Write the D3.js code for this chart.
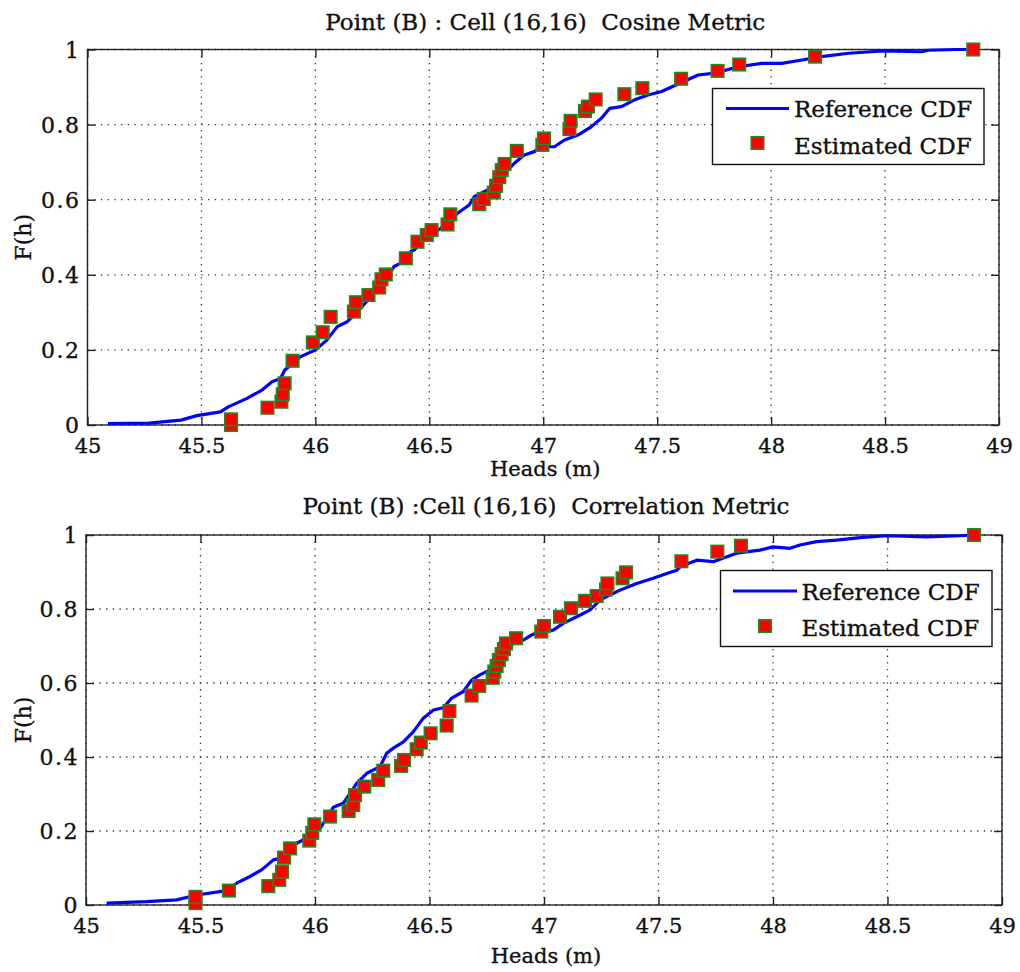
<!DOCTYPE html>
<html>
<head>
<meta charset="utf-8">
<script src="https://cdn.jsdelivr.net/npm/d3@7"></script>
<style>
  html, body { margin: 0; padding: 0; background: #fff; }
  svg { display: block; }
  text { font-family: "DejaVu Serif", serif; fill: #111; stroke: #111; stroke-width: 0.35px; white-space: pre; }
</style>
</head>
<body>
<svg id="chart" width="1020" height="972"></svg>
<script>
// ---------------- DATA ----------------
const xTicks = [45, 45.5, 46, 46.5, 47, 47.5, 48, 48.5, 49];
const xTickLabels = ["45", "45.5", "46", "46.5", "47", "47.5", "48", "48.5", "49"];
const yTicks = [0, 0.2, 0.4, 0.6, 0.8, 1];
const yTickLabels = ["0", "0.2", "0.4", "0.6", "0.8", "1"];

const titles = ["Point (B) : Cell (16,16)  Cosine Metric", "Point (B) :Cell (16,16)  Correlation Metric"];
const xLabel = "Heads (m)";
const yLabel = "F(h)";
const seriesNames = ["Reference CDF", "Estimated CDF"];

// Panel 1 (Cosine) – reference CDF
const cosRefX = [45.09,45.27,45.41,45.48,45.583,45.62,45.70,45.766,45.81,45.847,45.865,45.883,45.935,46.001,46.05,46.096,46.14,46.199,46.257,46.316,46.345,46.375,46.419,46.433,46.492,46.551,46.624,46.675,46.697,46.756,46.815,46.873,46.917,46.961,46.991,47.049,47.093,47.152,47.21,47.255,47.291,47.343,47.401,47.46,47.519,47.592,47.68,47.753,47.856,47.959,48.047,48.135,48.22,48.34,48.487,48.66,48.69,48.81,48.89];
const cosRefY = [0.004,0.005,0.013,0.025,0.035,0.049,0.071,0.093,0.115,0.124,0.146,0.155,0.182,0.200,0.226,0.262,0.275,0.311,0.351,0.395,0.422,0.431,0.462,0.466,0.501,0.524,0.564,0.586,0.608,0.626,0.661,0.697,0.719,0.728,0.741,0.741,0.759,0.772,0.794,0.817,0.843,0.848,0.866,0.879,0.888,0.908,0.932,0.937,0.954,0.963,0.963,0.972,0.981,0.990,0.996,0.994,0.998,1.0,1.0];
// Panel 1 (Cosine) – estimated CDF
const cosEstX = [45.63,45.63,45.79,45.851,45.857,45.865,45.90,45.989,46.032,46.067,46.169,46.178,46.233,46.28,46.29,46.309,46.397,46.448,46.489,46.51,46.58,46.592,46.719,46.739,46.783,46.793,46.807,46.818,46.83,46.884,46.996,47.003,47.115,47.12,47.183,47.196,47.23,47.356,47.435,47.605,47.765,47.86,48.193,48.887];
const cosEstY = [0.0,0.015,0.046,0.062,0.082,0.111,0.171,0.220,0.247,0.288,0.302,0.327,0.346,0.366,0.388,0.401,0.444,0.488,0.506,0.519,0.534,0.561,0.588,0.602,0.619,0.637,0.660,0.679,0.695,0.730,0.746,0.763,0.788,0.810,0.836,0.848,0.867,0.881,0.897,0.922,0.943,0.960,0.981,1.0];

// Panel 2 (Correlation) – reference CDF
const corRefX = [45.09,45.265,45.396,45.483,45.614,45.658,45.716,45.767,45.818,45.876,45.92,45.978,46.022,46.08,46.124,46.182,46.226,46.284,46.313,46.342,46.386,46.429,46.473,46.517,46.56,46.597,46.648,46.684,46.72,46.764,46.808,46.866,46.91,46.946,46.983,47.04,47.084,47.143,47.2,47.245,47.288,47.332,47.405,47.477,47.536,47.58,47.594,47.667,47.739,47.841,47.943,48.0,48.074,48.118,48.19,48.278,48.38,48.497,48.67,48.817,48.875];
const corRefY = [0.005,0.009,0.014,0.027,0.039,0.059,0.077,0.095,0.122,0.131,0.167,0.185,0.207,0.264,0.275,0.329,0.356,0.374,0.410,0.424,0.441,0.468,0.505,0.527,0.533,0.559,0.577,0.608,0.622,0.635,0.671,0.707,0.716,0.730,0.739,0.743,0.761,0.779,0.797,0.824,0.838,0.851,0.869,0.883,0.896,0.905,0.914,0.932,0.928,0.951,0.959,0.968,0.964,0.973,0.982,0.986,0.993,0.998,0.995,0.998,1.0];
// Panel 2 (Correlation) – estimated CDF
const corEstX = [45.478,45.478,45.624,45.796,45.844,45.856,45.865,45.891,45.975,45.988,45.997,46.066,46.147,46.167,46.175,46.215,46.276,46.298,46.376,46.389,46.444,46.462,46.505,46.575,46.587,46.684,46.717,46.776,46.783,46.793,46.803,46.815,46.825,46.834,46.878,46.988,47.0,47.07,47.118,47.179,47.23,47.271,47.277,47.343,47.358,47.6,47.757,47.86,48.878];
const corEstY = [0.005,0.022,0.039,0.051,0.068,0.090,0.128,0.153,0.174,0.195,0.218,0.239,0.254,0.270,0.297,0.320,0.338,0.363,0.376,0.392,0.421,0.439,0.464,0.485,0.524,0.566,0.592,0.614,0.631,0.646,0.662,0.678,0.692,0.707,0.721,0.739,0.754,0.779,0.802,0.822,0.835,0.853,0.869,0.883,0.899,0.929,0.955,0.971,1.0];

// ---------------- LAYOUT ----------------
const svg = d3.select("#chart");
const panels = [
  { title: titles[0], refX: cosRefX, refY: cosRefY, estX: cosEstX, estY: cosEstY,
    left: 87.5, right: 999, top: 49.5, bottom: 425, titleY: 29.5, xlabY: 476,
    legend: { x0: 712.5, x1: 984, y0: 88.5, y1: 164.5, lineX0: 726, lineX1: 789, row1: 108.5, row2: 143, textX: 794, base1: 117, base2: 154 } },
  { title: titles[1], refX: corRefX, refY: corRefY, estX: corEstX, estY: corEstY,
    left: 86, right: 1002, top: 535, bottom: 905, titleY: 514, xlabY: 963,
    legend: { x0: 720.5, x1: 992, y0: 570.5, y1: 646.5, lineX0: 733, lineX1: 797, row1: 591, row2: 626, textX: 801.5, base1: 599.5, base2: 636 } }
];

const AXIS_COLOR = "#222";
const LINE_BLUE = "#0000ff";
const MARK_FILL = "#ff0000";
const MARK_EDGE = "#1f8a1f";
const MS = 12.5;

panels.forEach(p => {
  const x = d3.scaleLinear().domain([45, 49]).range([p.left, p.right]);
  const y = d3.scaleLinear().domain([0, 1]).range([p.bottom, p.top]);
  const g = svg.append("g");

  g.append("rect").attr("x", p.left).attr("y", p.top)
    .attr("width", p.right - p.left).attr("height", p.bottom - p.top).attr("fill", "#fff");

  // grid (dotted)
  g.append("g").selectAll("line").data(xTicks).join("line")
    .attr("x1", d => x(d)).attr("x2", d => x(d))
    .attr("y1", p.top).attr("y2", p.bottom)
    .attr("stroke", "#333").attr("stroke-width", 1.3).attr("stroke-dasharray", "1.3,5.4");
  g.append("g").selectAll("line").data(yTicks).join("line")
    .attr("y1", d => y(d)).attr("y2", d => y(d))
    .attr("x1", p.left).attr("x2", p.right)
    .attr("stroke", "#333").attr("stroke-width", 1.3).attr("stroke-dasharray", "1.3,5.4");

  // axes with inward ticks on all four sides
  const tk = 8;
  const axB = d3.axisBottom(x).tickValues(xTicks).tickSize(-tk).tickFormat((d, i) => xTickLabels[i]);
  const axT = d3.axisTop(x).tickValues(xTicks).tickSize(-tk).tickFormat("");
  const axL = d3.axisLeft(y).tickValues(yTicks).tickSize(-tk).tickFormat((d, i) => yTickLabels[i]);
  const axR = d3.axisRight(y).tickValues(yTicks).tickSize(-tk).tickFormat("");

  const styleAxis = sel => {
    sel.select(".domain").remove();
    sel.selectAll(".tick line").attr("stroke", AXIS_COLOR).attr("stroke-width", 1.4);
    sel.selectAll(".tick text").attr("fill", "#111").style("font-family", "'DejaVu Serif', serif").style("font-size", "21px");
  };
  g.append("g").attr("transform", `translate(0,${p.bottom})`).call(axB).call(styleAxis)
    .selectAll(".tick text").attr("dy", "0").attr("y", 27.5);
  g.append("g").attr("transform", `translate(${p.left},0)`).call(axL).call(styleAxis)
    .selectAll(".tick text").attr("x", -7).attr("dy", "0.36em").style("font-size", "22px").style("letter-spacing", "1.5px");
  g.append("g").attr("transform", `translate(0,${p.top})`).call(axT).call(styleAxis);
  g.append("g").attr("transform", `translate(${p.right},0)`).call(axR).call(styleAxis);

  // box
  g.append("rect").attr("x", p.left).attr("y", p.top)
    .attr("width", p.right - p.left).attr("height", p.bottom - p.top)
    .attr("fill", "none").attr("stroke", AXIS_COLOR).attr("stroke-width", 1.4);

  // reference CDF line
  const refPts = p.refX.map((v, i) => [v, p.refY[i]]);
  const line = d3.line().x(d => x(d[0])).y(d => y(d[1]));
  g.append("path").datum(refPts).attr("d", line)
    .attr("fill", "none").attr("stroke", LINE_BLUE).attr("stroke-width", 3.2).attr("stroke-linejoin", "round");

  // estimated CDF markers
  const estPts = p.estX.map((v, i) => [v, p.estY[i]]);
  g.append("g").selectAll("rect").data(estPts).join("rect")
    .attr("x", d => x(d[0]) - MS / 2).attr("y", d => y(d[1]) - MS / 2)
    .attr("width", MS).attr("height", MS)
    .attr("fill", MARK_FILL).attr("stroke", MARK_EDGE).attr("stroke-width", 1.6);

  // title and labels
  const cx = (p.left + p.right) / 2;
  g.append("text").attr("x", cx + 2).attr("y", p.titleY).attr("text-anchor", "middle")
    .style("font-size", "23px").text(p.title);
  g.append("text").attr("x", cx + 2).attr("y", p.xlabY).attr("text-anchor", "middle")
    .style("font-size", "21px").text(xLabel);
  g.append("text").attr("transform", `translate(31,${(p.top + p.bottom) / 2}) rotate(-90)`)
    .attr("text-anchor", "middle").style("font-size", "22px").text(yLabel);

  // legend
  const L = p.legend;
  g.append("rect").attr("x", L.x0).attr("y", L.y0).attr("width", L.x1 - L.x0).attr("height", L.y1 - L.y0)
    .attr("fill", "#fff").attr("stroke", "#111").attr("stroke-width", 1.4);
  g.append("line").attr("x1", L.lineX0).attr("x2", L.lineX1).attr("y1", L.row1).attr("y2", L.row1)
    .attr("stroke", LINE_BLUE).attr("stroke-width", 3.2);
  g.append("rect").attr("x", (L.lineX0 + L.lineX1) / 2 - MS / 2).attr("y", L.row2 - MS / 2)
    .attr("width", MS).attr("height", MS).attr("fill", MARK_FILL).attr("stroke", MARK_EDGE).attr("stroke-width", 1.6);
  g.append("text").attr("x", L.textX).attr("y", L.base1).style("font-size", "23px").text(seriesNames[0]);
  g.append("text").attr("x", L.textX).attr("y", L.base2).style("font-size", "23px").text(seriesNames[1]);
});
</script>
</body>
</html>
